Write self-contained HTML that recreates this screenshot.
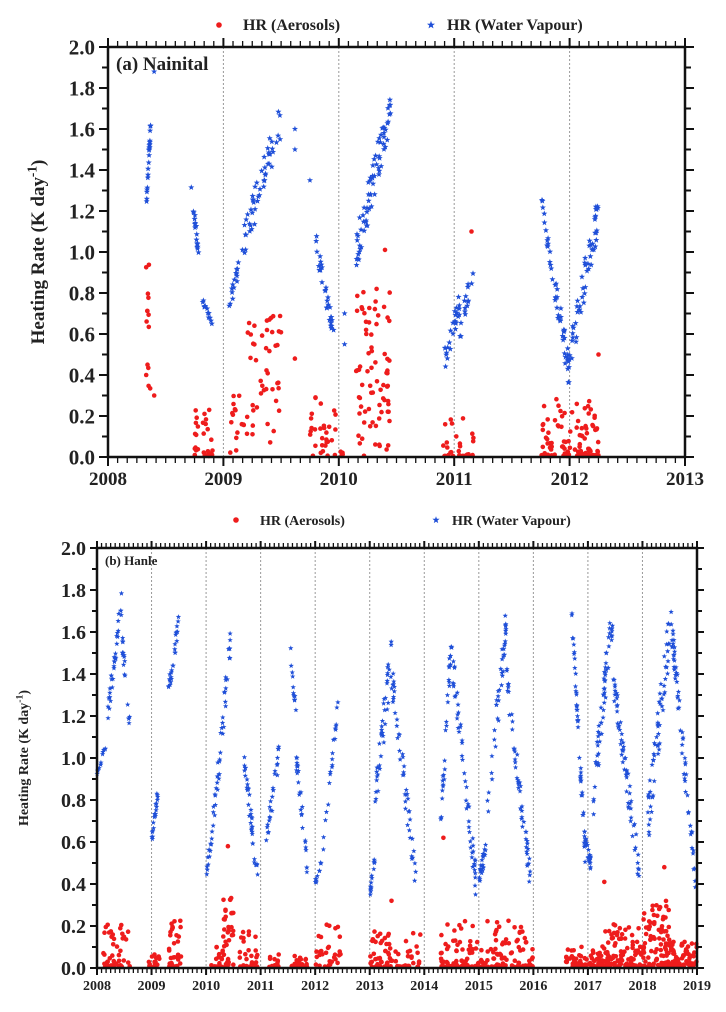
<!DOCTYPE html>
<html><head><meta charset="utf-8"><style>
body{margin:0;background:#fff}
svg{display:block}
text{font-family:"Liberation Serif",serif;font-weight:bold;fill:#222}
</style></head><body>
<svg id="s" width="726" height="1012" xmlns="http://www.w3.org/2000/svg"></svg>
<script>
const S=document.getElementById('s');let out='';
let seed=12345;function R(){seed=(seed*1103515245+12345)%2147483648;return seed/2147483648;}
function star(x,y,r){let p=[];for(let i=0;i<10;i++){const a=-Math.PI/2+i*Math.PI/5,rr=i%2?r*0.42:r;p.push((x+rr*Math.cos(a)).toFixed(1)+','+(y+rr*Math.sin(a)).toFixed(1));}return `<polygon points="${p.join(' ')}" fill="#1f4fd8"/>`;}
function dot(x,y,r){return `<circle cx="${x.toFixed(1)}" cy="${y.toFixed(1)}" r="${r}" fill="#ee1c1c"/>`;}
function panel(P){
 const X=t=>P.x0+(t-P.t0)*(P.x1-P.x0)/(P.t1-P.t0), Y=v=>P.y0-(v/2)*(P.y0-P.y1);
 for(let t=P.t0+1;t<P.t1;t++) out+=`<line x1="${X(t)}" y1="${P.y1}" x2="${X(t)}" y2="${P.y0}" stroke="#999" stroke-width="1" stroke-dasharray="2,2"/>`;
 P.blue.forEach(c=>{for(let i=0;i<c[4];i++){const f=R(),t=c[0]+f*(c[1]-c[0]);const v=c[2]+f*(c[3]-c[2])+(R()-0.5)*c[5];out+=star(X(t),Y(v),P.sr);}});
 P.red.forEach(c=>{for(let i=0;i<c[3];i++){const t=c[0]+R()*(c[1]-c[0]);const v=0.005+c[2]*Math.pow(R(),c[4]||2.3);out+=dot(X(t),Y(v),P.rr);}});
 (P.extraB||[]).forEach(e=>out+=star(X(e[0]),Y(e[1]),P.sr));
 (P.extraR||[]).forEach(e=>out+=dot(X(e[0]),Y(e[1]),P.rr));
 out+=`<rect x="${P.x0}" y="${P.y1}" width="${P.x1-P.x0}" height="${P.y0-P.y1}" fill="none" stroke="#111" stroke-width="2.5"/>`;
 for(let m=0;m<=(P.t1-P.t0)*12;m++){const x=X(P.t0+m/12),maj=m%12==0,L=maj?P.tM:P.tm;
  out+=`<line x1="${x}" y1="${P.y0}" x2="${x}" y2="${P.y0+L}" stroke="#111" stroke-width="${maj?2:1.3}"/>`;
  out+=`<line x1="${x}" y1="${P.y1}" x2="${x}" y2="${P.y1-L}" stroke="#111" stroke-width="${maj?2:1.3}"/>`;
  if(maj) out+=`<text x="${x}" y="${P.y0+P.xly}" font-size="${P.xfs}" text-anchor="middle">${P.t0+m/12}</text>`;}
 for(let k=0;k<=20;k++){const y=Y(k/10),maj=k%2==0,L=maj?P.tM:P.tm;
  out+=`<line x1="${P.x0-L}" y1="${y}" x2="${P.x0}" y2="${y}" stroke="#111" stroke-width="2"/>`;
  out+=`<line x1="${P.x1}" y1="${y}" x2="${P.x1+L}" y2="${y}" stroke="#111" stroke-width="2"/>`;
  if(maj) out+=`<text x="${P.x0-P.tM-4}" y="${y+P.yfs*0.35}" font-size="${P.yfs}" text-anchor="end">${(k/10).toFixed(1)}</text>`;}
 out+=`<text x="${P.x0+8}" y="${P.y1+P.tfs+4}" font-size="${P.tfs}">${P.title}</text>`;
 out+=`<text transform="translate(${P.ylx},${(P.y0+P.y1)/2}) rotate(-90)" font-size="${P.ylfs}" text-anchor="middle">Heating Rate (K day<tspan dy="-${P.ylfs*0.4}" font-size="${P.ylfs*0.7}">-1</tspan><tspan dy="${P.ylfs*0.4}">)</tspan></text>`;
 out+=dot(P.lg[0],P.lg[1],P.rr+0.5)+`<text x="${P.lg[0]+24}" y="${P.lg[1]+5}" font-size="${P.lfs}">HR (Aerosols)</text>`;
 out+=star(P.lg[2],P.lg[1],P.sr+1)+`<text x="${P.lg[2]+16}" y="${P.lg[1]+5}" font-size="${P.lfs}">HR (Water Vapour)</text>`;
}
panel({x0:108,x1:685,y0:457,y1:47,t0:2008,t1:2013,sr:3.2,rr:2.3,tM:9,tm:6,xly:28,xfs:19,yfs:21,tfs:19,ylfs:19,ylx:44,lfs:16,lg:[219,25,431],title:"(a) Nainital",
 blue:[[2008.33,2008.37,1.2,1.63,22,0.05],[2008.72,2008.8,1.32,0.92,18,0.06],[2008.82,2008.9,0.75,0.65,12,0.05],[2009.05,2009.15,0.75,0.95,15,0.08],[2009.15,2009.5,1.0,1.65,50,0.18],[2009.8,2009.97,1.05,0.55,30,0.1],[2010.15,2010.45,1.0,1.7,70,0.2],[2010.9,2011.05,0.45,0.75,25,0.12],[2011.05,2011.17,0.6,0.95,15,0.1],[2011.75,2011.85,1.28,0.9,15,0.08],[2011.85,2012.0,0.9,0.4,35,0.15],[2012.0,2012.25,0.5,1.2,50,0.2]],
 red:[[2008.33,2008.37,0.97,14,0.6],[2008.75,2008.92,0.28,30,1.8],[2009.05,2009.18,0.32,15,0.8],[2009.2,2009.5,0.7,45,0.6],[2009.75,2009.98,0.3,30,1.8],[2010.0,2010.05,0.03,6],[2010.15,2010.45,0.85,75,1.1],[2010.9,2011.18,0.2,30,2.8],[2011.75,2012.25,0.28,110,2.5]],
 extraB:[[2008.4,1.88],[2009.62,1.6],[2009.62,1.5],[2009.75,1.35],[2010.05,0.7],[2010.05,0.55]],
 extraR:[[2008.4,0.3],[2009.62,0.48],[2010.4,1.01],[2011.15,1.1],[2012.25,0.5]]});
panel({x0:97,x1:697,y0:968,y1:548,t0:2008,t1:2019,sr:2.8,rr:2.3,tM:7,tm:5,xly:22,xfs:14,yfs:20,tfs:13,ylfs:14,ylx:28,lfs:14,lg:[236,520,436],title:"(b) Hanle",
 blue:[[2008.0,2008.15,0.93,1.05,10,0.04],[2008.15,2008.45,1.1,1.75,35,0.12],[2008.45,2008.6,1.6,1.15,18,0.1],[2009.0,2009.12,0.6,0.85,20,0.05],[2009.3,2009.5,1.3,1.65,25,0.08],[2010.0,2010.12,0.45,0.65,14,0.05],[2010.12,2010.45,0.65,1.57,40,0.15],[2010.7,2010.95,1.0,0.4,35,0.12],[2011.1,2011.35,0.6,1.05,25,0.12],[2011.55,2011.65,1.5,1.2,12,0.08],[2011.65,2011.85,1.0,0.5,25,0.12],[2012.0,2012.12,0.4,0.5,10,0.04],[2012.15,2012.45,0.6,1.33,20,0.1],[2013.0,2013.1,0.35,0.55,14,0.06],[2013.1,2013.4,0.8,1.5,40,0.2],[2013.4,2013.85,1.4,0.4,45,0.15],[2014.3,2014.5,0.65,1.6,30,0.15],[2014.5,2014.95,1.5,0.4,50,0.15],[2015.0,2015.15,0.4,0.6,25,0.08],[2015.15,2015.5,0.7,1.65,40,0.2],[2015.5,2015.95,1.4,0.4,50,0.15],[2016.7,2016.95,1.7,0.55,45,0.12],[2016.95,2017.05,0.6,0.5,25,0.06],[2017.1,2017.45,0.8,1.7,55,0.2],[2017.45,2017.95,1.4,0.45,60,0.15],[2018.1,2018.5,0.7,1.6,60,0.25],[2018.5,2018.98,1.7,0.4,60,0.15]],
 red:[[2008.1,2008.6,0.22,45,2.5],[2008.95,2009.15,0.06,15],[2009.3,2009.55,0.23,30,1.3],[2010.05,2010.3,0.1,15],[2010.3,2010.5,0.33,35,1.2],[2010.6,2010.95,0.17,30,2.5],[2011.15,2011.35,0.06,15],[2011.55,2011.85,0.06,25],[2012.0,2012.5,0.21,30,2.5],[2013.0,2013.95,0.18,70,2.3],[2014.3,2016.0,0.22,170,2.8],[2016.6,2017.3,0.1,80,2],[2017.3,2018.0,0.21,90,2.2],[2018.0,2018.5,0.32,90,1.6],[2018.5,2019.0,0.12,70,2]],
 extraB:[],extraR:[[2010.4,0.58],[2013.4,0.32],[2014.35,0.62],[2017.3,0.41],[2018.4,0.48]]});
S.innerHTML=out;
</script>
</body></html>
